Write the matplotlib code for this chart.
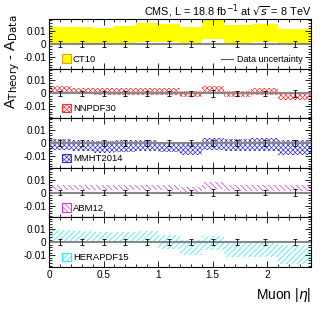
import matplotlib
matplotlib.use("Agg")
import matplotlib.pyplot as plt
from matplotlib.lines import Line2D
from matplotlib.patches import Patch
from matplotlib.ticker import MultipleLocator
import numpy as np

plt.rcParams["font.family"] = ["Liberation Sans", "DejaVu Sans"]
plt.rcParams["hatch.linewidth"] = 0.5

# muon |eta| bins
edges = [0.0, 0.2, 0.4, 0.6, 0.8, 1.0, 1.2, 1.4, 1.6, 1.85, 2.1, 2.4]
data_err = [0.0022, 0.0022, 0.0022, 0.0022, 0.0022, 0.0022,
            0.0022, 0.0024, 0.0022, 0.0022, 0.0024]

# theory - data bands (low, high) per bin
ct10_lo = [0.0, 0.0, 0.0, 0.0, 0.001, 0.001, 0.0, 0.0036, 0.0005, 0.001, 0.0]
ct10_hi = [0.0127, 0.0127, 0.012, 0.0135, 0.0158, 0.0152, 0.013, 0.018, 0.0145, 0.015, 0.011]
nnpdf_lo = [0.0005, -0.0008, -0.001, -0.001, -0.001, -0.001, -0.003, 0.0, -0.003, -0.001, -0.005]
nnpdf_hi = [0.006, 0.0045, 0.004, 0.004, 0.004, 0.004, 0.002, 0.0055, 0.002, 0.004, 0.0]
mmht_lo = [-0.005, -0.006, -0.0075, -0.007, -0.006, -0.007, -0.009, -0.005, -0.006, -0.006, -0.009]
mmht_hi = [0.003, 0.002, 0.0017, 0.002, 0.002, 0.001, 0.001, 0.004, 0.003, 0.004, 0.002]
abm_lo = [0.0017, 0.0017, 0.0017, 0.0017, 0.0017, 0.0017, 0.0, 0.003, 0.001, 0.001, 0.001]
abm_hi = [0.006, 0.006, 0.006, 0.006, 0.006, 0.006, 0.0045, 0.008, 0.0057, 0.0057, 0.0057]
hera_lo = [0.001, 0.0003, 0.0, 0.0, -0.0005, -0.0055, -0.0097, -0.006, -0.0117, -0.0117, -0.0167]
hera_hi = [0.009, 0.0085, 0.008, 0.008, 0.0085, 0.0055, 0.002, 0.005, 0.0, 0.0, -0.002]

panels = [
    ("CT10", ct10_lo, ct10_hi, "#ffff00", None),
    ("NNPDF30", nnpdf_lo, nnpdf_hi, "#ff3030", "xxxxxxx"),
    ("MMHT2014", mmht_lo, mmht_hi, "#3030e0", "xxxxxxx"),
    ("ABM12", abm_lo, abm_hi, "#e030e0", "\\" * 6),
    ("HERAPDF15", hera_lo, hera_hi, "#20f0f0", "/" * 6),
]

edges = np.array(edges)
widths = np.diff(edges)
centers = edges[:-1] + widths / 2

fig, axes = plt.subplots(5, 1, figsize=(3.22, 3.09), dpi=100, sharex=True)
fig.subplots_adjust(left=0.152, right=0.966, top=0.9385, bottom=0.136, hspace=0)

for ax, (name, lo, hi, color, hatch) in zip(axes, panels):
    lo = np.array(lo)
    hi = np.array(hi)
    if hatch is None:
        ax.bar(edges[:-1], hi - lo, bottom=lo, width=widths, align="edge",
               color=color, linewidth=0)
        handle = Patch(facecolor=color, edgecolor="#f0a000", linewidth=0.8)
    else:
        ax.bar(edges[:-1], hi - lo, bottom=lo, width=widths, align="edge",
               facecolor="none", edgecolor=color, hatch=hatch, linewidth=0)
        handle = Patch(facecolor="none", edgecolor=color, hatch=hatch, linewidth=0.8)
    ax.axhline(0, color="#888888", lw=1.5, zorder=2)
    ax.errorbar(centers, np.zeros_like(centers), yerr=data_err, fmt="none",
                ecolor="black", elinewidth=0.6, capsize=1.2, capthick=0.6, zorder=3)

    leg = ax.legend([handle], [name], loc="lower left", bbox_to_anchor=(0.03, 0.0),
                    frameon=False, fontsize=6.8, handlelength=1.0, handleheight=1.0,
                    handletextpad=0.2, borderaxespad=0.1)
    if name == "CT10":
        ax.add_artist(leg)
        ax.legend([Line2D([], [], color="#555555", lw=0.8)], ["Data uncertainty"],
                  loc="lower right", bbox_to_anchor=(0.985, 0.0), frameon=False,
                  fontsize=6.5, handlelength=1.4, handletextpad=0.4, borderaxespad=0.1)

    ax.set_xlim(0, 2.4)
    ax.set_ylim(-0.019, 0.019)
    ax.set_yticks([-0.01, 0, 0.01])
    ax.set_yticklabels(["-0.01", "0", "0.01"])
    ax.yaxis.set_minor_locator(MultipleLocator(0.002))
    ax.xaxis.set_major_locator(MultipleLocator(0.5))
    ax.xaxis.set_minor_locator(MultipleLocator(0.1))
    ax.tick_params(which="both", direction="in", top=True, right=True,
                   labelsize=7.2, width=0.6, pad=2)
    ax.tick_params(which="major", length=4)
    ax.tick_params(which="minor", length=2)
    for sp in ax.spines.values():
        sp.set_linewidth(0.8)

axes[-1].set_xticks([0, 0.5, 1, 1.5, 2])
axes[-1].set_xticklabels(["0", "0.5", "1", "1.5", "2"])

fig.text(0.966, 0.965, r"CMS, L = 18.8 fb$^{-1}$ at $\sqrt{s}$ = 8 TeV",
         ha="right", va="center", fontsize=7.8)
fig.text(0.966, 0.045, r"Muon |$\eta$|", ha="right", va="center", fontsize=10)
fig.text(0.04, 0.80, r"A$_{\rm Theory}$ - A$_{\rm Data}$", rotation=90,
         ha="center", va="center", fontsize=10.5)

fig.savefig("out.png", dpi=100)
